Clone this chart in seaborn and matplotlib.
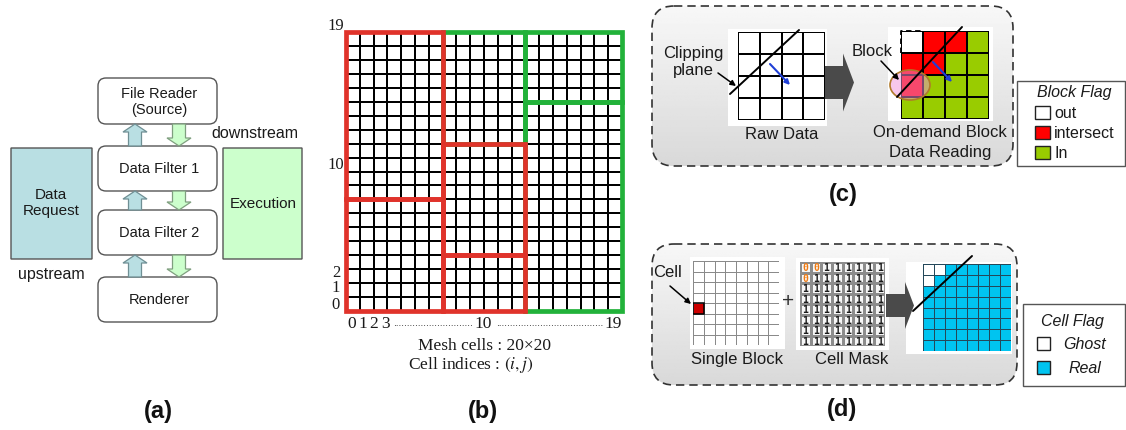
import numpy as np
import matplotlib
matplotlib.use("Agg")
import matplotlib.pyplot as plt
import seaborn as sns
from matplotlib.colors import ListedColormap
from matplotlib.patches import FancyBboxPatch, Rectangle, FancyArrow, Ellipse

# -------------------------------
# Data
# -------------------------------
pipeline_stages = ["File Reader\n(Source)", "Data Filter 1", "Data Filter 2", "Renderer"]

mesh_n = 20
# blocks as (i0, j0, i1, j1) in cell indices, j counted from the bottom
red_blocks = [(0, 8, 7, 20), (0, 0, 7, 8), (7, 4, 13, 12), (7, 0, 13, 4)]
green_blocks = [(7, 12, 13, 20), (13, 15, 20, 20), (13, 0, 20, 15)]
x_tick_labels = ["0", "1", "2", "3", "10", "19"]
y_tick_labels = ["19", "10", "2", "1", "0"]

raw_flags = [[0, 0, 0, 0],
             [0, 0, 0, 0],
             [0, 0, 0, 0],
             [0, 0, 0, 0]]
block_flags = [[0, 1, 1, 2],
               [1, 1, 2, 2],
               [1, 2, 2, 2],
               [2, 2, 2, 2]]
block_flag_names = ["out", "intersect", "In"]
block_flag_colors = ["white", "#ff0000", "#99cc00"]

single_cell = (4, 0)  # row, col of the highlighted cell
cell_mask = [[0, 0, 1, 1, 1, 1, 1, 1],
             [0, 1, 1, 1, 1, 1, 1, 1],
             [1, 1, 1, 1, 1, 1, 1, 1],
             [1, 1, 1, 1, 1, 1, 1, 1],
             [1, 1, 1, 1, 1, 1, 1, 1],
             [1, 1, 1, 1, 1, 1, 1, 1],
             [1, 1, 1, 1, 1, 1, 1, 1],
             [1, 1, 1, 1, 1, 1, 1, 1]]
cell_flag_names = ["Ghost", "Real"]
cell_flag_colors = ["white", "#00c4f0"]

# -------------------------------
# Figure in pixel coordinates
# -------------------------------
sns.set_theme(style="white")
plt.rcParams["font.family"] = ["Liberation Sans", "DejaVu Sans"]
W, H = 1126, 431
fig = plt.figure(figsize=(W / 100, H / 100), dpi=100)
ax = fig.add_axes([0, 0, 1, 1])
ax.set_xlim(0, W)
ax.set_ylim(H, 0)
ax.axis("off")


def px_axes(x0, y0, x1, y1):
    a = fig.add_axes([x0 / W, 1 - y1 / H, (x1 - x0) / W, (y1 - y0) / H])
    return a


def rbox(x0, y0, x1, y1, fc, ec="#555555", r=8, lw=1.0, ls="-"):
    p = FancyBboxPatch((x0, y0), x1 - x0, y1 - y0,
                       boxstyle=f"round,pad=0,rounding_size={r}",
                       fc=fc, ec=ec, lw=lw, ls=ls)
    ax.add_patch(p)
    return p


txt = "#1a1a1a"

# -------------------------------
# (a) pipeline
# -------------------------------
stage_y = [(79, 125), (147, 192), (211, 256), (278, 323)]
for name, (y0, y1) in zip(pipeline_stages, stage_y):
    rbox(98, y0, 217, y1, "white")
    ax.text(159, (y0 + y1) / 2, name, ha="center", va="center", fontsize=10.5,
            color=txt, linespacing=1.2)

rbox(11, 149, 92, 260, "#b9dfe3", r=0)
ax.text(51, 203, "Data\nRequest", ha="center", va="center", fontsize=11, color=txt)
rbox(223, 149, 302, 260, "#ccffcc", r=0)
ax.text(263, 204, "Execution", ha="center", va="center", fontsize=11, color=txt)
ax.text(255, 134, "downstream", ha="center", va="center", fontsize=11.5, color=txt)
ax.text(51, 275, "upstream", ha="center", va="center", fontsize=11.5, color=txt)

for (a0, a1), (b0, b1) in zip(stage_y[:-1], stage_y[1:]):
    ax.add_patch(FancyArrow(135, b0, 0, -(b0 - a1), width=13, head_width=24,
                            head_length=8, length_includes_head=True,
                            fc="#b9dfe3", ec="#6f8f94", lw=0.9))
    ax.add_patch(FancyArrow(179, a1, 0, b0 - a1, width=13, head_width=24,
                            head_length=8, length_includes_head=True,
                            fc="#ccffcc", ec="#7f9f7f", lw=0.9))

# -------------------------------
# (b) mesh
# -------------------------------
axb = px_axes(346, 33, 622, 312)
sns.heatmap(np.zeros((mesh_n, mesh_n)), ax=axb, cmap=ListedColormap(["white"]),
            linewidths=1.3, linecolor="black", cbar=False,
            xticklabels=False, yticklabels=False)
for blocks, col in [(green_blocks, "#22b23a"), (red_blocks, "#e0332b")]:
    for i0, j0, i1, j1 in blocks:
        axb.add_patch(Rectangle((i0, mesh_n - j1), i1 - i0, j1 - j0, fill=False,
                                ec=col, lw=3.4, clip_on=False, zorder=5))
axb.set_axis_off()

serif = ["Liberation Serif", "DejaVu Serif"]
for lab, x in zip(x_tick_labels, [352, 363, 374, 385, 483, 613]):
    ax.text(x, 324, lab, ha="center", va="center", fontsize=12.5, family=serif, color=txt)
ax.text(433, 326, "·" * 29, ha="center", va="center", fontsize=6, family=serif, color=txt)
ax.text(550, 326, "·" * 39, ha="center", va="center", fontsize=6, family=serif, color=txt)
for lab, y in zip(y_tick_labels, [26, 165, 273, 288, 305]):
    ax.text(336, y, lab, ha="center", va="center", fontsize=12, family=serif, color=txt)
ax.text(484, 346, "Mesh cells : 20×20", ha="center", va="center", fontsize=12.5,
        family=serif, color=txt)
ax.text(471, 365, "Cell indices : $(i, j)$", ha="center", va="center", fontsize=12.5,
        family=serif, color=txt, math_fontfamily="stix")

# -------------------------------
# (c) and (d) dashed panels with gradient
# -------------------------------
grad = np.linspace(0.97, 0.85, 100)[:, None] * np.ones((1, 10))
for (x0, y0, x1, y1) in [(652, 7, 1013, 167), (652, 245, 1017, 386)]:
    p = rbox(x0, y0, x1, y1, "none", ec="#333333", r=22, lw=1.2, ls=(0, (5, 3)))
    im = ax.imshow(grad, cmap="gray", vmin=0, vmax=1, extent=(x0, x1, y1, y0),
                   aspect="auto", zorder=0)
    im.set_clip_path(p)
ax.set_xlim(0, W)
ax.set_ylim(H, 0)

# white backgrounds behind grids
for (x0, y0, x1, y1) in [(728, 30, 827, 127), (888, 28, 993, 122),
                         (690, 258, 785, 350), (796, 259, 889, 351), (906, 263, 1012, 355)]:
    ax.add_patch(Rectangle((x0, y0), x1 - x0, y1 - y0, fc="white", ec="none", zorder=1))

# raw data grid
axr = px_axes(738, 33, 825, 121)
sns.heatmap(np.array(raw_flags), ax=axr, cmap=ListedColormap(block_flag_colors),
            vmin=-0.5, vmax=2.5, linewidths=1.3, linecolor="black", cbar=False,
            xticklabels=False, yticklabels=False)
axr.set_axis_off()

# block flag grid (out cells are left open and drawn dashed)
bf = np.array(block_flags)
axf = px_axes(901, 32, 989, 120)
sns.heatmap(bf, ax=axf, mask=bf == 0, cmap=ListedColormap(block_flag_colors),
            vmin=-0.5, vmax=2.5, linewidths=1.3, linecolor="black", cbar=False,
            xticklabels=False, yticklabels=False)
for r, c in zip(*np.where(bf == 0)):
    axf.plot([c, c, c + 1], [r + 1, r, r], color="black", lw=1.3, ls=(0, (3, 2)),
             clip_on=False)
axf.set_axis_off()

ax.add_patch(FancyArrow(825, 83.5, 29, 0, width=33, head_width=58, head_length=11,
                        length_includes_head=True, fc="#4a4a4a", ec="none"))
ax.text(782, 135, "Raw Data", ha="center", va="center", fontsize=12, color=txt)
ax.text(940, 133, "On-demand Block", ha="center", va="center", fontsize=12, color=txt)
ax.text(940, 153, "Data Reading", ha="center", va="center", fontsize=12, color=txt)
ax.text(693, 62, "Clipping\nplane", ha="center", va="center", fontsize=12,
        color=txt, linespacing=1.15)

# block flag legend
ax.add_patch(Rectangle((1017, 82), 108, 85, fc="white", ec="#555555", lw=1))
ax.text(1074, 93, "Block Flag", ha="center", va="center", fontsize=11.5,
        style="italic", color=txt)
for k, (name, col) in enumerate(zip(block_flag_names, block_flag_colors)):
    y = 107 + k * 20
    ax.add_patch(Rectangle((1035, y), 15, 13, fc=col, ec="#222222", lw=1))
    ax.text(1054, y + 6.5, name, ha="left", va="center", fontsize=11.5, color=txt)

# (d) grids
sb = np.zeros((8, 8))
sb[single_cell] = 1
axs = px_axes(693, 262, 779, 346)
sns.heatmap(sb, ax=axs, cmap=ListedColormap(["white", "#cc0000"]), vmin=0, vmax=1,
            linewidths=0.7, linecolor="#8a8a8a", cbar=False,
            xticklabels=False, yticklabels=False)
axs.add_patch(Rectangle((single_cell[1], single_cell[0]), 1, 1, fill=False,
                        ec="black", lw=1.1, zorder=5))
axs.set_axis_off()

axm = px_axes(800, 263, 885, 347)
sns.heatmap(np.array(cell_mask), ax=axm, cmap=ListedColormap(["#f6f6f6", "#f6f6f6"]),
            vmin=0, vmax=1, linewidths=0.8, linecolor="#8c8c8c", cbar=False,
            annot=True, fmt="d",
            annot_kws={"fontsize": 7, "fontweight": "bold", "family": "DejaVu Sans Mono"},
            xticklabels=False, yticklabels=False)
for t in axm.texts:
    t.set_color("#f07a10" if t.get_text() == "0" else "#1a1a1a")
axm.set_axis_off()

axc = px_axes(923, 265, 1011, 352)
sns.heatmap(np.array(cell_mask), ax=axc, cmap=ListedColormap(cell_flag_colors),
            vmin=0, vmax=1, linewidths=0.7, linecolor="#24485a", cbar=False,
            xticklabels=False, yticklabels=False)
axc.set_axis_off()

ax.add_patch(FancyArrow(886, 306.5, 28, 0, width=23, head_width=47, head_length=9,
                        length_includes_head=True, fc="#4a4a4a", ec="none"))
ax.text(788, 302, "+", ha="center", va="center", fontsize=15, color="#333333")
ax.text(737, 360, "Single Block", ha="center", va="center", fontsize=12, color=txt)
ax.text(852, 360, "Cell Mask", ha="center", va="center", fontsize=12, color=txt)
ax.text(668, 273, "Cell", ha="center", va="center", fontsize=12, color=txt)

# cell flag legend
ax.add_patch(Rectangle((1023, 305), 102, 82, fc="white", ec="#555555", lw=1))
ax.text(1072, 322, "Cell Flag", ha="center", va="center", fontsize=11.5,
        style="italic", color=txt)
for k, (name, col) in enumerate(zip(cell_flag_names, cell_flag_colors)):
    y = 338 + k * 24
    ax.add_patch(Rectangle((1037, y), 13, 13, fc=col, ec="#222222", lw=1))
    ax.text(1085, y + 6.5, name, ha="center", va="center", fontsize=11.5,
            style="italic", color=txt)

# -------------------------------
# overlay: lines, arrows, ellipse on top of grids
# -------------------------------
ov = fig.add_axes([0, 0, 1, 1])
ov.set_xlim(0, W)
ov.set_ylim(H, 0)
ov.axis("off")
ov.patch.set_alpha(0)

for (xa, ya, xb, yb) in [(730, 95, 799, 31), (897, 98, 962, 28), (913, 312, 972, 257)]:
    ov.plot([xa, xb], [ya, yb], color="black", lw=1.4)
for (xa, ya, xb, yb) in [(770, 65, 790, 86), (933, 63, 952, 83)]:
    ov.annotate("", xy=(xb, yb), xytext=(xa, ya),
                arrowprops=dict(arrowstyle="-|>", color="#1f3fd6", lw=1.5,
                                mutation_scale=7, shrinkA=0, shrinkB=0))
ov.add_patch(Ellipse((910, 86), 40, 30, fc="#f090d8", alpha=0.5, ec="none"))
ov.add_patch(Ellipse((910, 86), 40, 30, fill=False, ec="#b07a2a", lw=1.2))
ov.text(872, 52, "Block", ha="center", va="center", fontsize=12, color=txt)
for (xa, ya, xb, yb) in [(718, 74, 736, 87), (881, 62, 899, 81), (670, 287, 691, 305)]:
    ov.annotate("", xy=(xb, yb), xytext=(xa, ya),
                arrowprops=dict(arrowstyle="-|>", color="black", lw=1.1,
                                mutation_scale=8, shrinkA=0, shrinkB=0))

# panel labels
for lab, x, y in [("(a)", 158, 412), ("(b)", 483, 412), ("(c)", 843, 195), ("(d)", 842, 410)]:
    ov.text(x, y, lab, ha="center", va="center", fontsize=17, fontweight="bold", color="#111111")

fig.savefig("out.png", dpi=100)
